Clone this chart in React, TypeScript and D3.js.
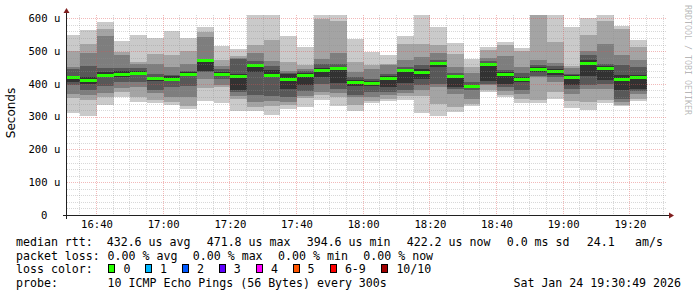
import React from "react";
import * as d3 from "d3";

// ---- data ----
const barEndTimes = [
  "16:35","16:40","16:45","16:50","16:55","17:00","17:05","17:10","17:15","17:20",
  "17:25","17:30","17:35","17:40","17:45","17:50","17:55","18:00","18:05","18:10",
  "18:15","18:20","18:25","18:30","18:35","18:40","18:45","18:50","18:55","19:00",
  "19:05","19:10","19:15","19:20","19:25",
];
const medianRtt = [420,413,428,431,434,417,416,431,471.8,431,423,458,428,415,428,443,447,406,404,419,441,437,463,424,394.6,461,431,414,446,438,422,463,449,414,422.2];
const ping01 = [312,302,337,361,345,342,335,323,348,342,318,318,305,323,330,352,332,318,342,347,350,310,303,315,332,376,359,342,342,353,325,320,342,332,348];
const ping02 = [357,350,360,376,361,350,345,332,386,390,353,330,332,335,356,366,360,335,348,353,362,362,338,330,340,381,365,355,350,376,348,345,350,335,354];
const ping03 = [370,366,373,386,390,372,361,360,414,396,362,345,347,345,363,376,372,360,360,365,372,380,389,368,353,396,378,370,420,405,370,383,383,345,370];
const ping04 = [395,382,393,405,406,380,389,394,437,414,376,366,363,360,378,399,383,366,376,376,381,398,400,383,380,400,390,381,423,420,385,395,400,355,378];
const ping05 = [405,400,420,422,428,410,408,425,440,425,380,437,420,383,395,420,403,393,392,389,403,415,450,390,388,410,400,405,437,428,398,423,411,381,383];
const ping06 = [425,420,437,438,440,422,424,437,476,437,430,462,442,430,432,448,452,412,410,425,446,445,468,428,398,465,435,420,452,445,426,472,455,428,428];
const ping07 = [445,454,447,448,447,430,428,440,477,445,475,470,455,434,438,462,460,420,415,430,452,457,472,432,405,470,442,434,458,453,430,487,462,457,452];
const ping08 = [452,495,546,487,460,462,452,462,543,453,480,493,469,439,445,475,495,437,444,458,472,482,495,452,434,480,484,452,472,464,448,501,521,487,472];
const ping09 = [500,521,567,498,467,490,487,500,559,474,484,518,533,467,457,597,591,467,458,462,521,523,518,492,452,503,518,501,610,528,455,548,591,567,513];
const ping10 = [548,564,589,531,548,541,561,541,574,516,506,620,620,545,511,620,620,536,498,487,545,620,574,525,475,513,528,510,620,620,574,602,620,576,533];

const yTickValues = [0, 100, 200, 300, 400, 500, 600];
const yTickLabels = ["0", "100 u", "200 u", "300 u", "400 u", "500 u", "600 u"];

const lossLabels = ["0", "1", "2", "3", "4", "5", "6-9", "10/10"];
const lossColors = ["#26ff00", "#00b8ff", "#0059ff", "#5e00ff", "#ff00ff", "#ff5500", "#ff0000", "#a00000"];

const legendRtt = ["median rtt:", "432.6 us avg", "471.8 us max", "394.6 us min", "422.2 us now", "0.0 ms sd", "24.1", "am/s"];
const legendLoss = ["packet loss:", "0.00 % avg", "0.00 % max", "0.00 % min", "0.00 % now"];
const legendProbe = ["probe:", "10 ICMP Echo Pings (56 Bytes) every 300s"];
const stampText = "Sat Jan 24 19:30:49 2026";

// ---- layout ----
const W = 697, H = 297;
const L = 67, R = 667, T = 15, B = 215;
const rttX = [16, 106.7, 206.7, 306.7, 406.7, 506.7, 586.7, 635];
const lossX = [16, 107.6, 192.8, 278.1, 363.3];
const probeX = [16, 107.6];
const boxX = [108.5, 145.5, 182.5, 219.5, 256.5, 293.5, 330.5, 381.5];
const boxLabelX = [123.6, 160, 196.9, 233.8, 271.1, 307.6, 344.9, 396.4];
const shades = ["#cacaca", "#a4a4a4", "#7e7e7e", "#585858", "#323232"];
const MONO = "'DejaVu Sans Mono', monospace";

const day = (hm: string) => {
  const [h, m] = hm.split(":").map(Number);
  return new Date(2026, 0, 24, h, m, 0);
};

export default function App() {
  const x = d3.scaleTime().domain([day("16:31"), day("19:31")]).range([L, R]);
  const y = d3.scaleLinear().domain([0, 610]).range([B, T]);
  const pings = [ping01, ping02, ping03, ping04, ping05, ping06, ping07, ping08, ping09, ping10];

  const majorX = x.ticks(d3.timeMinute.every(20) as any);
  const minorX = x.ticks(d3.timeMinute.every(5) as any).filter((d) => d.getMinutes() % 20 !== 0);
  const majorY = d3.range(100, 601, 100);
  const minorY = d3.range(20, 610, 20).filter((v) => v % 100 !== 0);
  const fmt = d3.timeFormat("%H:%M");

  const bars = barEndTimes.map((t, i) => {
    const end = day(t);
    const start = d3.timeMinute.offset(end, -5);
    const x0 = Math.max(L, x(start));
    const x1 = Math.min(R, x(end));
    return { i, x0, x1 };
  });

  const txt = { fontFamily: MONO, fontSize: 11.6, fill: "#000", whiteSpace: "pre" as const };

  return (
    <div style={{ position: "absolute", left: 0, top: 0 }}>
      <svg width={W} height={H} viewBox={`0 0 ${W} ${H}`} style={{ display: "block", background: "#fff" }}>
        <defs>
          <clipPath id="plot">
            <rect x={L} y={T} width={R - L} height={B - T} />
          </clipPath>
        </defs>
        <rect x={0} y={0} width={W} height={H} fill="#fff" />

        {/* smoke */}
        <g clipPath="url(#plot)" shapeRendering="crispEdges">
          {bars.map((b) =>
            shades.map((c, k) => {
              const lo = pings[k][b.i];
              const hi = pings[9 - k][b.i];
              return (
                <rect key={`${b.i}-${k}`} x={b.x0} width={b.x1 - b.x0} y={y(hi)} height={y(lo) - y(hi)} fill={c} />
              );
            })
          )}
          {bars.map((b) => (
            <rect key={`m${b.i}`} x={b.x0} width={b.x1 - b.x0} y={Math.round(y(medianRtt[b.i])) - 1.5} height={3} fill={lossColors[0]} />
          ))}
        </g>

        {/* grid */}
        <g strokeDasharray="1 1" strokeWidth={1}>
          {minorY.map((v) => (
            <line key={`my${v}`} x1={L} x2={R} y1={Math.round(y(v)) + 0.5} y2={Math.round(y(v)) + 0.5} stroke="rgba(143,143,143,0.35)" />
          ))}
          {minorX.map((d) => (
            <line key={`mx${+d}`} y1={T} y2={B} x1={Math.round(x(d)) - 0.5} x2={Math.round(x(d)) - 0.5} stroke="rgba(143,143,143,0.35)" />
          ))}
          {majorY.map((v) => (
            <line key={`My${v}`} x1={L} x2={R} y1={Math.round(y(v)) + 0.5} y2={Math.round(y(v)) + 0.5} stroke="rgba(222,79,79,0.4)" />
          ))}
          {majorX.map((d) => (
            <line key={`Mx${+d}`} y1={T} y2={B} x1={Math.round(x(d)) - 0.5} x2={Math.round(x(d)) - 0.5} stroke="rgba(222,79,79,0.4)" />
          ))}
        </g>

        {/* axes */}
        <line x1={L - 4} x2={R + 4} y1={B + 0.5} y2={B + 0.5} stroke="#202020" strokeWidth={1} />
        <line x1={L - 0.5} x2={L - 0.5} y1={B + 4} y2={T - 4} stroke="#202020" strokeWidth={1} />
        <polygon points={`${R + 2},${B - 2.5} ${R + 2},${B + 3.5} ${R + 7},${B + 0.5}`} fill="#801f1f" />
        <polygon points={`${L - 3.5},${T - 2} ${L + 2.5},${T - 2} ${L - 0.5},${T - 7}`} fill="#801f1f" />

        {/* y labels */}
        {yTickValues.map((v, i) => (
          <text key={`yl${v}`} x={v === 0 ? 47.5 : 60.3} y={y(v) + 3.8} textAnchor="end" fontFamily={MONO} fontSize={10.6} fill="#000">
            {yTickLabels[i]}
          </text>
        ))}
        {/* x labels */}
        {majorX.map((d) => (
          <text key={`xl${+d}`} x={x(d)} y={228} textAnchor="middle" fontFamily={MONO} fontSize={10.6} fill="#000">
            {fmt(d)}
          </text>
        ))}

        {/* vertical label */}
        <text transform="translate(15,113) rotate(-90)" textAnchor="middle" fontFamily="'DejaVu Sans', sans-serif" fontSize={12} fill="#000">
          Seconds
        </text>
        {/* signature */}
        <text transform="translate(684.5,5) rotate(90)" fontFamily={MONO} fontSize={8.3} fill="rgba(0,0,0,0.3)">
          RRDTOOL / TOBI OETIKER
        </text>

        {/* legend */}
        {legendRtt.map((s, i) => (
          <text key={`r${i}`} x={rttX[i]} y={245.5} style={txt}>{s}</text>
        ))}
        {legendLoss.map((s, i) => (
          <text key={`l${i}`} x={lossX[i]} y={259.5} style={txt}>{s}</text>
        ))}
        <text x={16} y={273} style={txt}>loss color:</text>
        {lossLabels.map((s, i) => (
          <g key={`b${i}`}>
            <rect x={boxX[i]} y={264.5} width={6} height={8} fill={lossColors[i]} stroke="#000" strokeWidth={1} shapeRendering="crispEdges" />
            <text x={boxLabelX[i]} y={273} style={txt}>{s}</text>
          </g>
        ))}
        {legendProbe.map((s, i) => (
          <text key={`p${i}`} x={probeX[i]} y={287} style={txt}>{s}</text>
        ))}
        <text x={681} y={287} textAnchor="end" style={txt}>{stampText}</text>
      </svg>
    </div>
  );
}
